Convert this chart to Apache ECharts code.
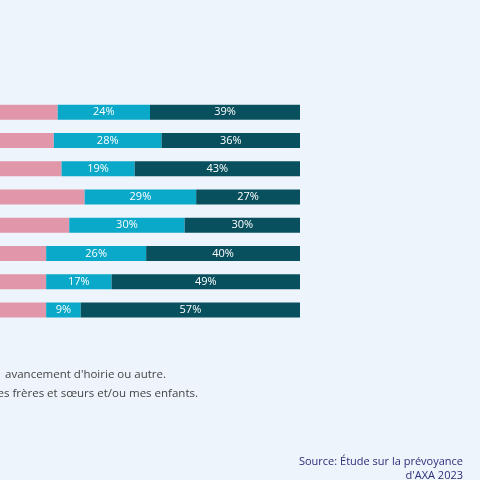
<!DOCTYPE html>
<html><head><meta charset="utf-8">
<script src="https://cdn.jsdelivr.net/npm/echarts@6/dist/echarts.min.js"></script>
<style>html,body{margin:0;padding:0;background:#eef4fb}#mychart{width:480px;height:480px}</style>
</head><body><div id="mychart"></div>
<script>
// rows top to bottom
var rows = ['r1', 'r2', 'r3', 'r4', 'r5', 'r6', 'r7', 'r8']
var pinkVals = [37, 36, 38, 44, 40, 34, 34, 34]
var cyanVals = [24, 28, 19, 29, 30, 26, 17, 9]
var darkVals = [39, 36, 43, 27, 30, 40, 49, 57]

var myChart = echarts.init(document.getElementById('mychart'))

function seg(vals, color, showLabel) {
    return {
        type: 'bar',
        stack: 'all',
        data: vals,
        barWidth: 15,
        itemStyle: { color: color },
        label: {
            show: showLabel,
            formatter: '{c}%',
            color: '#fff',
            fontSize: 11,
            fontFamily: 'Open Sans'
        }
    }
}

var option = {
    backgroundColor: '#eef4fb',
    animation: false,
    grid: { left: 0, right: 180, top: 98, bottom: 156 },
    // left part of the chart is cropped off in the reference
    xAxis: { type: 'value', min: 22, max: 100, show: false },
    yAxis: {
        type: 'category',
        inverse: true,
        data: rows,
        axisLabel: { show: false },
        axisTick: { show: false },
        axisLine: { show: false },
        splitLine: { show: false }
    },
    series: [
        seg(pinkVals, '#e196aa', false),
        seg(cyanVals, '#0aa9c9', true),
        seg(darkVals, '#08505e', true)
    ],
    graphic: [
        { type: 'text', x: 166, y: 375, style: { text: "éventuel  avancement d'hoirie ou autre.", fill: '#444', font: '11.5px "Open Sans"', textAlign: 'right', textVerticalAlign: 'middle' } },
        { type: 'text', x: 198, y: 394, style: { text: "parents et/ou mes frères et sœurs et/ou mes enfants.", fill: '#444', font: '11.5px "Open Sans"', textAlign: 'right', textVerticalAlign: 'middle' } },
        { type: 'text', x: 463, y: 462, style: { text: 'Source: Étude sur la prévoyance', fill: '#2b2f7a', font: '11px "Open Sans"', textAlign: 'right', textVerticalAlign: 'middle' } },
        { type: 'text', x: 463, y: 476, style: { text: "d'AXA 2023", fill: '#2b2f7a', font: '11px "Open Sans"', textAlign: 'right', textVerticalAlign: 'middle' } }
    ]
}
myChart.setOption(option)
</script></body></html>
